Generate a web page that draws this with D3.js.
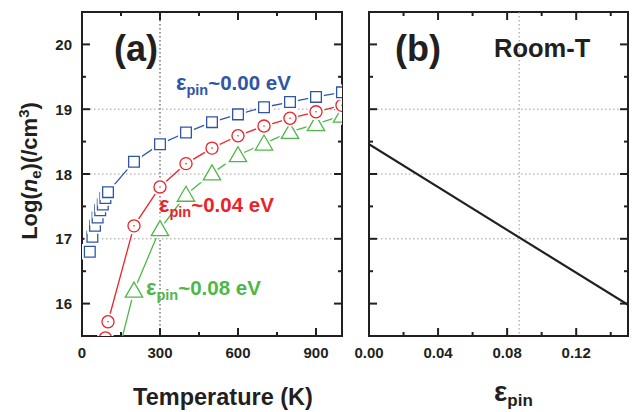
<!DOCTYPE html>
<html>
<head>
<meta charset="utf-8">
<script src="https://cdn.jsdelivr.net/npm/d3@7"></script>
<style>
  body { margin: 0; background: #fff; }
  svg { display: block; font-family: "Liberation Sans", Arial, sans-serif; font-weight: bold; }
</style>
</head>
<body>
<svg width="638" height="412"></svg>
<script>
// panel (a): log carrier density vs temperature
const tempBlue = [30, 40, 50, 60, 70, 80, 90, 100, 200, 300, 400, 500, 600, 700, 800, 900, 1000];
const logBlue = [16.80, 17.03, 17.20, 17.33, 17.44, 17.53, 17.63, 17.72, 18.19, 18.46, 18.64, 18.80, 18.92, 19.03, 19.11, 19.19, 19.26];
const tempRed = [90, 100, 200, 300, 400, 500, 600, 700, 800, 900, 1000];
const logRed = [15.47, 15.72, 17.20, 17.80, 18.16, 18.40, 18.59, 18.74, 18.86, 18.96, 19.06];
const tempGreen = [100, 200, 300, 400, 500, 600, 700, 800, 900, 1000];
const logGreen = [14.6, 16.20, 17.15, 17.68, 18.01, 18.29, 18.47, 18.65, 18.77, 18.90];

// panel (b): room temperature vs pinning energy
const epin = [0, 0.15];
const logRoom = [18.46, 15.98];
const epinMarker = 0.087;

const tempTicks = [0, 300, 600, 900];
const epinTicks = [0, 0.04, 0.08, 0.12];
const logTicks = [16, 17, 18, 19, 20];
const gridLog = [17, 18, 19];

const BLUE = '#2f56a6', RED = '#ec2227', GREEN = '#4db848', INK = '#231f20';

const svg = d3.select('svg');
const y = d3.scaleLinear().domain([15.5, 20.5]).range([336, 12]);
const xa = d3.scaleLinear().domain([0, 1000]).range([82, 342]);
const xb = d3.scaleLinear().domain([0, 0.15]).range([369, 628]);

svg.append('clipPath').attr('id', 'clipA')
  .append('rect').attr('x', 82).attr('y', 12).attr('width', 260).attr('height', 324);
svg.append('clipPath').attr('id', 'clipB')
  .append('rect').attr('x', 369).attr('y', 12).attr('width', 259).attr('height', 324);

function frame(x, majors, minorStep, fmt, showY) {
  const [x0, x1] = x.range();
  const g = svg.append('g');
  // grid
  g.selectAll('.gy').data(gridLog).enter().append('line')
    .attr('x1', x0).attr('x2', x1)
    .attr('y1', d => y(d)).attr('y2', d => y(d))
    .attr('stroke', '#9a9a9a').attr('stroke-width', 1).attr('stroke-dasharray', '1.5,2.5');
  // x ticks
  const dom = x.domain();
  const minors = d3.range(dom[0], dom[1] + 1e-9, minorStep);
  [[336, -1], [12, 1]].forEach(([yy, dir]) => {
    g.selectAll(null).data(minors).enter().append('line')
      .attr('x1', d => x(d)).attr('x2', d => x(d))
      .attr('y1', yy).attr('y2', d => {
        const major = majors.some(m => Math.abs(m - d) < 1e-9);
        return yy + dir * (major ? 8 : 4);
      })
      .attr('stroke', INK).attr('stroke-width', 2);
  });
  // y ticks
  const yMinors = d3.range(16, 20.01, 0.5);
  [[x0, 1], [x1, -1]].forEach(([xx, dir]) => {
    g.selectAll(null).data(yMinors).enter().append('line')
      .attr('y1', d => y(d)).attr('y2', d => y(d))
      .attr('x1', xx).attr('x2', d => xx + dir * (d % 1 === 0 ? 8 : 4))
      .attr('stroke', INK).attr('stroke-width', 2);
  });
  g.append('rect').attr('x', x0).attr('y', 12).attr('width', x1 - x0).attr('height', 324)
    .attr('fill', 'none').attr('stroke', INK).attr('stroke-width', 2);
  g.selectAll('.xl').data(majors).enter().append('text')
    .attr('x', d => x(d)).attr('y', 358)
    .attr('text-anchor', 'middle').attr('font-size', 15).attr('fill', INK)
    .text(fmt);
  if (showY) {
    g.selectAll('.yl').data(logTicks).enter().append('text')
      .attr('x', 72).attr('y', d => y(d) + 5.5)
      .attr('text-anchor', 'end').attr('font-size', 15).attr('fill', INK)
      .text(d => d);
  }
  return g;
}

// panel a
frame(xa, tempTicks, 150, d => d, true);
svg.append('line')
  .attr('x1', xa(300)).attr('x2', xa(300)).attr('y1', 12).attr('y2', 336)
  .attr('stroke', '#333').attr('stroke-width', 1).attr('stroke-dasharray', '1.5,2.5');

const plotA = svg.append('g').attr('clip-path', 'url(#clipA)');
const line = d3.line().x(d => xa(d[0])).y(d => y(d[1]));

function series(temps, vals, color, shape) {
  const pts = d3.zip(temps, vals);
  plotA.append('path').datum(pts).attr('d', line)
    .attr('fill', 'none').attr('stroke', color).attr('stroke-width', 1.3);
  const tri = shape === d3.symbolTriangle;
  const sym = d3.symbol().type(shape).size(tri ? 130 : 115);
  const m = plotA.selectAll(null).data(pts).enter().append('g')
    .attr('transform', d => `translate(${xa(d[0])},${y(d[1]) + (tri ? 1.5 : 0)})`);
  m.append('path').attr('d', sym).attr('fill', 'none').attr('stroke', '#fff').attr('stroke-width', 5);
  m.append('path').attr('d', sym).attr('fill', '#fff').attr('stroke', color).attr('stroke-width', 1.3);
  if (shape === d3.symbolCircle) {
    m.append('circle').attr('r', 0.8).attr('fill', color);
  }
}
series(tempGreen, logGreen, GREEN, d3.symbolTriangle);
series(tempRed, logRed, RED, d3.symbolCircle);
series(tempBlue, logBlue, BLUE, d3.symbolSquare);

function epsLabel(x, yy, color, value) {
  const t = svg.append('text').attr('x', x).attr('y', yy).attr('fill', color).attr('font-size', 20.5);
  t.append('tspan').attr('font-size', 22).text('ε');
  t.append('tspan').attr('font-size', 14.5).attr('dy', 5).text('pin');
  t.append('tspan').attr('dy', -5).text('~' + value + ' eV');
}
epsLabel(176, 90, BLUE, '0.00');
epsLabel(159, 212, RED, '0.04');
epsLabel(146, 295, GREEN, '0.08');

svg.append('text').attr('x', 114).attr('y', 61).attr('font-size', 36).attr('fill', INK).text('(a)');

// y axis title
const yt = svg.append('text')
  .attr('transform', 'translate(37,171) rotate(-90)')
  .attr('text-anchor', 'middle').attr('font-size', 22).attr('fill', INK);
yt.append('tspan').text('Log(');
yt.append('tspan').attr('font-style', 'italic').text('n');
yt.append('tspan').attr('font-size', 15).attr('dy', 4).text('e');
yt.append('tspan').attr('dy', -4).text(')(/cm');
yt.append('tspan').attr('font-size', 15).attr('dy', -8).text('3');
yt.append('tspan').attr('dy', 8).text(')');

svg.append('text').attr('x', 223).attr('y', 405).attr('text-anchor', 'middle')
  .attr('font-size', 23.5).attr('fill', INK).text('Temperature (K)');

// panel b
frame(xb, epinTicks, 0.02, d => d.toFixed(2), false);
svg.append('line')
  .attr('x1', xb(epinMarker)).attr('x2', xb(epinMarker)).attr('y1', 12).attr('y2', 336)
  .attr('stroke', '#9a9a9a').attr('stroke-width', 1).attr('stroke-dasharray', '1.5,2.5');
svg.append('g').attr('clip-path', 'url(#clipB)')
  .append('path').datum(d3.zip(epin, logRoom))
  .attr('d', d3.line().x(d => xb(d[0])).y(d => y(d[1])))
  .attr('fill', 'none').attr('stroke', INK).attr('stroke-width', 2.2);

svg.append('text').attr('x', 395).attr('y', 61).attr('font-size', 36).attr('fill', INK).text('(b)');
svg.append('text').attr('x', 494).attr('y', 57).attr('font-size', 25.5).attr('fill', INK).text('Room-T');

const xt = svg.append('text').attr('x', 494).attr('y', 401).attr('fill', INK).attr('font-size', 28);
xt.append('tspan').text('ε');
xt.append('tspan').attr('font-size', 17).attr('dy', 5).text('pin');
</script>
</body>
</html>
